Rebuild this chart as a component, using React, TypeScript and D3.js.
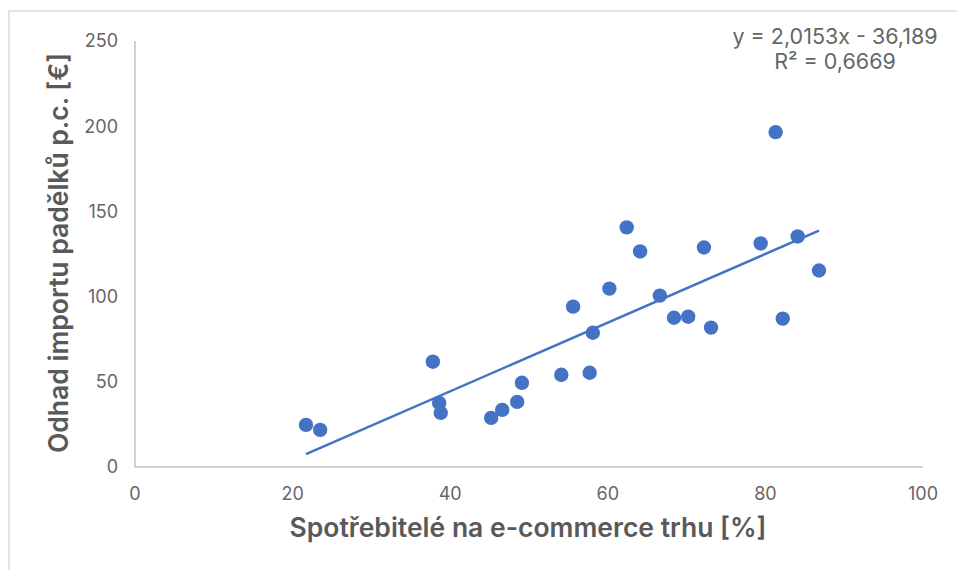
import * as d3 from 'd3'

const W = 957
const H = 570
const MARGIN = { top: 41, right: 34, bottom: 103, left: 135 }

// share of consumers buying online [%]
const xValues = [
  21.7, 23.5, 37.8, 38.6, 38.8, 45.2, 46.6, 48.5, 49.1, 54.1, 55.6, 57.7, 58.1,
  60.2, 62.4, 64.1, 66.6, 68.4, 70.2, 72.2, 73.1, 79.4, 81.3, 82.2, 84.1, 86.8,
]
// estimated counterfeit import per capita [€]
const yValues = [
  24.7, 21.8, 61.8, 37.6, 31.8, 28.8, 33.5, 38.2, 49.4, 54.1, 94.1, 55.3, 78.8,
  104.7, 140.6, 126.5, 100.6, 87.6, 88.2, 128.8, 81.8, 131.2, 196.5, 87.1, 135.3,
  115.3,
]
const xTicks = [0, 20, 40, 60, 80, 100]
const yTicks = [0, 50, 100, 150, 200, 250]
const slope = 2.0153
const intercept = -36.189
const eqText = 'y = 2,0153x - 36,189'
const r2Text = 'R² = 0,6669'
const xTitle = 'Spotřebitelé na e-commerce trhu [%]'
const yTitle = 'Odhad importu padělků p.c.  [€]'

const BLUE = '#4472C4'
const GREY = '#595959'
const TICK = '#666666'
const FONT = 'Inter, "Noto Sans", sans-serif'

export default function App() {
  const bw = W - MARGIN.left - MARGIN.right
  const bh = H - MARGIN.top - MARGIN.bottom
  const x = d3.scaleLinear().domain([0, 100]).range([0, bw])
  const y = d3.scaleLinear().domain([0, 250]).range([bh, 0])

  const [x0, x1] = d3.extent(xValues) as [number, number]
  const trend = d3.line<number>()
    .x((d) => x(d))
    .y((d) => y(slope * d + intercept))([x0, x1])

  return (
    <svg
      width={W}
      height={H}
      style={{ position: 'absolute', left: 0, top: 0, background: '#fff' }}
      fontFamily={FONT}
    >
      <rect x={9} y={11} width={W} height={H} fill="none" stroke="#d9d9d9" strokeWidth={1.5} />
      <g transform={`translate(${MARGIN.left},${MARGIN.top})`}>
        {/* axes */}
        <line x1={0} x2={0} y1={0} y2={bh} stroke="#bfbfbf" strokeWidth={1.5} />
        <line x1={0} x2={bw} y1={bh} y2={bh} stroke="#bfbfbf" strokeWidth={1.5} />
        {yTicks.map((t) => (
          <text key={t} x={-17} y={y(t)} dy="0.35em" textAnchor="end" fontSize={18} fill={TICK}>
            {t}
          </text>
        ))}
        {xTicks.map((t) => (
          <text
            key={t}
            x={x(t)}
            y={bh + 33}
            textAnchor="middle"
            fontSize={18}
            fill={TICK}
          >
            {t}
          </text>
        ))}

        {/* points */}
        {xValues.map((d, i) => (
          <circle key={i} cx={x(d)} cy={y(yValues[i])} r={7.2} fill={BLUE} />
        ))}

        {/* trendline */}
        <path d={trend ?? ''} fill="none" stroke={BLUE} strokeWidth={2.5} />
      </g>

      <text x={835} y={44} textAnchor="middle" fontSize={21.5} fill={TICK}>
        {eqText}
      </text>
      <text x={835} y={69} textAnchor="middle" fontSize={21.5} fill={TICK}>
        {r2Text}
      </text>

      <text
        x={528}
        y={537}
        textAnchor="middle"
        fontSize={26.5}
        fontWeight={600}
        fill={GREY}
      >
        {xTitle}
      </text>
      <text
        transform={`translate(68,253) rotate(-90)`}
        textAnchor="middle"
        fontSize={26.5}
        fontWeight={600}
        fill={GREY}
      >
        {yTitle}
      </text>
    </svg>
  )
}
